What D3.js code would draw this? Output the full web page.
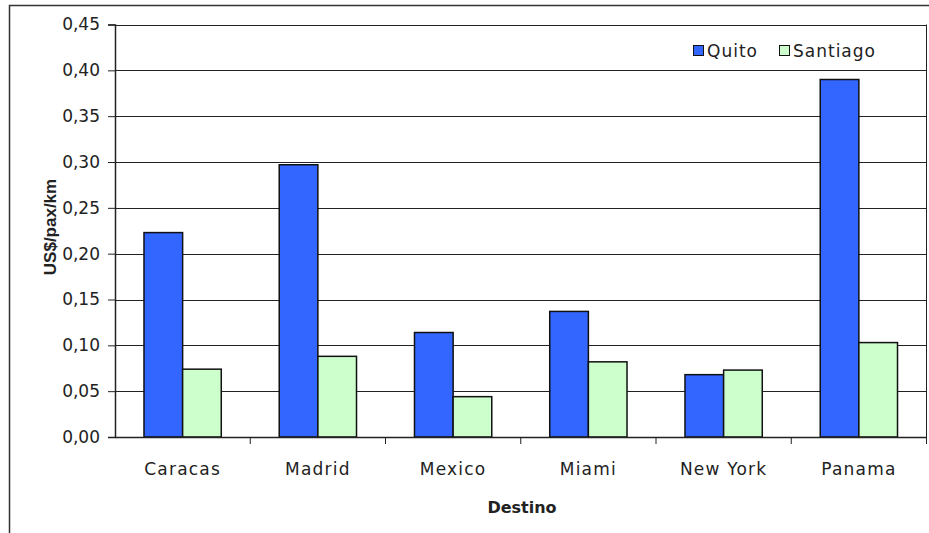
<!DOCTYPE html>
<html>
<head>
<meta charset="utf-8">
<script src="https://cdn.jsdelivr.net/npm/d3@7/dist/d3.min.js"></script>
<style>
  html, body { margin: 0; padding: 0; background: #fff; }
  svg { display: block; }
  text { font-family: "DejaVu Sans", sans-serif; fill: #222; }
</style>
</head>
<body>
<svg id="chart" width="929" height="533"></svg>
<script>
// Fare per passenger-km by destination
const destinos = ["Caracas", "Madrid", "Mexico", "Miami", "New York", "Panama"];
const seriesNames = ["Quito", "Santiago"];
const quito    = [0.223, 0.297, 0.114, 0.137, 0.068, 0.390];
const santiago = [0.074, 0.088, 0.044, 0.082, 0.073, 0.103];
const yTicks   = [0, 0.05, 0.10, 0.15, 0.20, 0.25, 0.30, 0.35, 0.40, 0.45];
const colors   = ["#3366FF", "#CCFFCC"];

const svg = d3.select("#chart");
const plot = { left: 115, right: 926.5, top: 24.5, bottom: 437 };

// Outer chart frame (runs off the right and bottom edges)
svg.append("rect")
  .attr("x", 9.5).attr("y", 5.5)
  .attr("width", 940).attr("height", 540)
  .attr("fill", "#fff").attr("stroke", "#333").attr("stroke-width", 1.5);

const x = d3.scaleBand().domain(destinos).range([plot.left, plot.right]).paddingInner(0).paddingOuter(0);
const inner = d3.scaleBand().domain(seriesNames)
  .range([0, x.bandwidth()]).paddingInner(0).paddingOuter(0.75);
const y = d3.scaleLinear().domain([0, 0.45]).range([plot.bottom, plot.top]);

const fmt = d => d3.format(".2f")(d).replace(".", ",");

// Gridlines
svg.append("g")
  .selectAll("line").data(yTicks.filter(d => d > 0)).join("line")
  .attr("x1", plot.left).attr("x2", plot.right)
  .attr("y1", d => Math.round(y(d)) + 0.5).attr("y2", d => Math.round(y(d)) + 0.5)
  .attr("stroke", "#222").attr("stroke-width", 1);

// Right border of plot area
svg.append("line")
  .attr("x1", plot.right).attr("x2", plot.right)
  .attr("y1", plot.top).attr("y2", plot.bottom)
  .attr("stroke", "#222").attr("stroke-width", 1);

// Bars
const rows = destinos.map((d, i) => ({ destino: d, values: [quito[i], santiago[i]] }));
const groups = svg.append("g").selectAll("g").data(rows).join("g")
  .attr("transform", d => `translate(${x(d.destino)},0)`);
groups.selectAll("rect")
  .data(d => d.values.map((v, j) => ({ name: seriesNames[j], value: v, color: colors[j] })))
  .join("rect")
  .attr("x", d => inner(d.name))
  .attr("width", inner.bandwidth())
  .attr("y", d => y(d.value))
  .attr("height", d => y(0) - y(d.value))
  .attr("fill", d => d.color)
  .attr("stroke", "#111").attr("stroke-width", 1.5);

// Y axis
const yAxis = svg.append("g")
  .attr("transform", `translate(${plot.left},0)`)
  .call(d3.axisLeft(y).tickValues(yTicks).tickFormat(fmt).tickSize(7).tickPadding(8));
yAxis.select(".domain").attr("stroke", "#222").attr("stroke-width", 1.5);
yAxis.selectAll(".tick line").attr("stroke", "#222");
yAxis.selectAll("text").style("font-family", "'DejaVu Sans', sans-serif")
  .style("font-size", "17px").attr("fill", "#222");

// X axis (ticks between categories)
const xAxis = svg.append("g")
  .attr("transform", `translate(0,${plot.bottom})`)
  .call(d3.axisBottom(x).tickSize(0).tickPadding(26));
xAxis.select(".domain").attr("stroke", "#222").attr("stroke-width", 1.5);
xAxis.selectAll("text").style("font-family", "'DejaVu Sans', sans-serif")
  .style("font-size", "17px").style("letter-spacing", "1.2px").attr("fill", "#222");
svg.append("g").selectAll("line")
  .data(destinos).join("line")
  .attr("x1", d => x(d) + x.bandwidth())
  .attr("x2", d => x(d) + x.bandwidth())
  .attr("y1", plot.bottom).attr("y2", plot.bottom + 7)
  .attr("stroke", "#222");

// Axis titles
svg.append("text")
  .attr("transform", "translate(56,227) rotate(-90)")
  .attr("text-anchor", "middle")
  .style("font-family", "'Liberation Sans', Arial, sans-serif")
  .style("font-size", "17px").style("font-weight", "bold").attr("fill", "#111")
  .text("US$/pax/km");
svg.append("text")
  .attr("x", 522).attr("y", 513)
  .attr("text-anchor", "middle")
  .style("font-size", "16px").style("font-weight", "bold").attr("fill", "#111")
  .text("Destino");

// Legend
const legend = svg.append("g").attr("transform", "translate(693,51)");
const legendX = [0, 86];
seriesNames.forEach((name, i) => {
  const g = legend.append("g").attr("transform", `translate(${legendX[i]},0)`);
  g.append("rect").attr("x", 0.5).attr("y", -5.5).attr("width", 10).attr("height", 10)
    .attr("fill", colors[i]).attr("stroke", "#111").attr("stroke-width", 1);
  g.append("text").attr("x", 14).attr("y", 5.5)
    .style("font-size", "17px").style("letter-spacing", "1px").text(name);
});
</script>
</body>
</html>
